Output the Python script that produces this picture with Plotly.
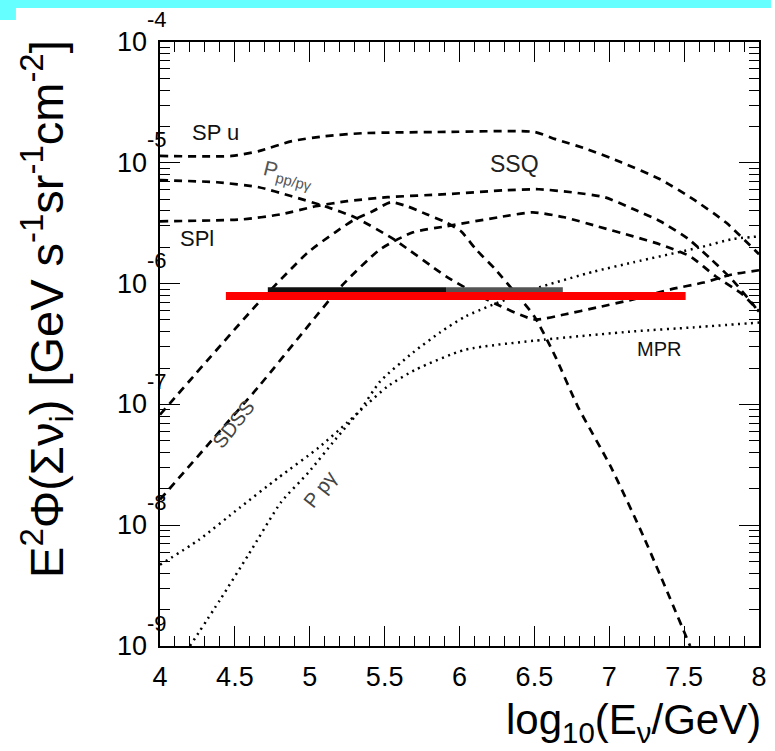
import plotly.graph_objects as go

# ---------------- data ----------------
x_spu = [4.0, 4.48, 4.66, 4.88, 5.10, 5.36, 5.91, 6.50, 6.64, 6.85, 7.08, 7.34, 7.56, 7.78, 8.0]
y_spu = [1.14e-5, 1.14e-5, 1.25e-5, 1.51e-5, 1.66e-5, 1.76e-5, 1.80e-5, 1.80e-5, 1.57e-5, 1.30e-5,
         1.01e-5, 7.3e-6, 5.0e-6, 3.2e-6, 1.75e-6]

x_ppp = [4.0, 4.38, 4.66, 4.88, 5.10, 5.30, 5.56, 5.91, 6.18, 6.50, 6.70, 6.92, 7.16, 7.41, 7.63, 7.82, 8.0]
y_ppp = [7.18e-6, 6.90e-6, 6.28e-6, 5.28e-6, 4.37e-6, 3.54e-6, 2.33e-6, 1.15e-6, 7.40e-7, 5.05e-7,
         5.55e-7, 6.35e-7, 7.40e-7, 8.95e-7, 1.02e-6, 1.19e-6, 1.29e-6]

x_spl = [4.0, 4.55, 4.81, 5.04, 5.25, 5.52, 5.91, 6.31, 6.53, 6.75, 6.97, 7.16, 7.34, 7.53, 7.68, 7.82, 7.96, 8.0]
y_spl = [3.28e-6, 3.40e-6, 3.75e-6, 4.37e-6, 4.81e-6, 5.19e-6, 5.50e-6, 5.93e-6, 6.04e-6, 5.70e-6,
         5.19e-6, 4.14e-6, 3.28e-6, 2.33e-6, 1.59e-6, 1.08e-6, 6.73e-7, 5.77e-7]

x_sdss = [4.0, 4.35, 4.66, 4.97, 5.21, 5.47, 5.69, 5.91, 6.26, 6.49, 6.70, 6.92, 7.16, 7.34, 7.54, 7.71, 7.89, 8.0]
y_sdss = [1.63e-8, 5.11e-8, 1.41e-7, 4.17e-7, 9.5e-7, 1.92e-6, 2.66e-6, 2.98e-6, 3.54e-6, 3.89e-6,
          3.54e-6, 2.98e-6, 2.46e-6, 2.11e-6, 1.68e-6, 1.15e-6, 8.13e-7, 5.87e-7]

x_ssq = [4.0, 4.66, 4.99, 5.17, 5.30, 5.42, 5.54, 5.65, 5.78, 5.91, 6.01, 6.11, 6.24, 6.37, 6.50,
         6.64, 6.79, 7.01, 7.23, 7.54]
y_ssq = [8.22e-8, 6.98e-7, 1.82e-6, 2.66e-6, 3.40e-6, 3.97e-6, 4.71e-6, 4.37e-6, 3.75e-6, 3.21e-6,
         2.71e-6, 1.92e-6, 1.31e-6, 8.45e-7, 5.35e-7, 2.49e-7, 9.6e-8, 3.05e-8, 8.0e-9, 1.0e-9]

x_mpr = [4.0, 4.26, 4.53, 4.79, 5.06, 5.25, 5.38, 5.52, 5.71, 6.04, 6.57, 7.16, 7.56, 8.0]
y_mpr = [4.70e-9, 7.57e-9, 1.39e-8, 2.47e-8, 4.39e-8, 7.06e-8, 9.95e-8, 1.41e-7, 1.95e-7, 2.84e-7,
         3.44e-7, 4.02e-7, 4.34e-7, 4.76e-7]

x_ppg = [4.20, 4.40, 4.59, 4.81, 4.99, 5.17, 5.34, 5.47, 5.69, 5.87, 6.04, 6.49, 6.90, 7.16, 7.61, 7.82, 8.0]
y_ppg = [1.0e-9, 2.40e-9, 5.68e-9, 1.56e-8, 2.72e-8, 5.11e-8, 9.06e-8, 1.55e-7, 2.69e-7, 3.94e-7,
         5.35e-7, 8.95e-7, 1.26e-6, 1.50e-6, 2.00e-6, 2.33e-6, 2.46e-6]

x_black = [4.72, 5.91]
y_black = [8.8e-7, 8.8e-7]
x_grey = [5.91, 6.69]
y_grey = [8.8e-7, 8.8e-7]
x_red = [4.44, 7.51]
y_red = [7.9e-7, 7.9e-7]

x_tickvals = [4, 4.5, 5, 5.5, 6, 6.5, 7, 7.5, 8]
x_ticktext = ["4", "4.5", "5", "5.5", "6", "6.5", "7", "7.5", "8"]
y_decades = [-9, -8, -7, -6, -5, -4]

# curve labels: (text, x, log10 y, angle, size, colour)
labels = [
    ("SP u", 4.37, -4.745, 0, 22, "#111"),
    ("P<sub>pp/p\u03b3</sub>", 4.86, -5.10, 14, 21, "#555"),
    ("SSQ", 6.37, -5.01, 0, 23, "#222"),
    ("SPl", 4.25, -5.63, 0, 22, "#111"),
    ("SDSS", 4.49, -7.16, -52, 20, "#444"),
    ("P p\u03b3", 5.07, -7.70, -52, 20, "#444"),
    ("MPR", 7.33, -6.54, 0, 20, "#111"),
]

FONT = "Liberation Sans, Arial, sans-serif"
DASH = "8px,6px"
DOT = "2px,4.5px"

fig = go.Figure()


def add_curve(x, y, dash, width=2.7):
    fig.add_trace(go.Scatter(x=x, y=y, mode="lines",
                             line=dict(color="black", width=width, dash=dash,
                                       shape="spline", smoothing=0.6),
                             showlegend=False, hoverinfo="skip"))


add_curve(x_spu, y_spu, DASH)
add_curve(x_ppp, y_ppp, DASH)
add_curve(x_spl, y_spl, DASH)
add_curve(x_sdss, y_sdss, DASH)
add_curve(x_ssq, y_ssq, DASH)
add_curve(x_mpr, y_mpr, DOT, 2.5)
add_curve(x_ppg, y_ppg, DOT, 2.5)

fig.add_trace(go.Scatter(x=x_black, y=y_black, mode="lines",
                         line=dict(color="#111", width=6), showlegend=False, hoverinfo="skip"))
fig.add_trace(go.Scatter(x=x_grey, y=y_grey, mode="lines",
                         line=dict(color="#555", width=6), showlegend=False, hoverinfo="skip"))
fig.add_trace(go.Scatter(x=x_red, y=y_red, mode="lines",
                         line=dict(color="#ff0000", width=8), showlegend=False, hoverinfo="skip"))

annotations = []
for d in y_decades:
    annotations.append(dict(xref="paper", x=0, yref="y", y=d, text="10", showarrow=False,
                            xanchor="right", yanchor="middle", xshift=-11,
                            font=dict(family=FONT, size=27, color="black")))
    annotations.append(dict(xref="paper", x=0, yref="y", y=d, text="-%d" % (-d), showarrow=False,
                            xanchor="left", yanchor="middle", xshift=-15, yshift=23,
                            font=dict(family=FONT, size=22, color="black")))

for txt, lx, ly, ang, sz, col in labels:
    annotations.append(dict(x=lx, y=ly, xref="x", yref="y", text=txt, showarrow=False,
                            textangle=ang, font=dict(family=FONT, size=sz, color=col)))

annotations.append(dict(xref="paper", x=0, xshift=-113, yref="paper", y=0.558,
                        text="E<sup>2</sup>\u03a6(\u03a3\u03bd<sub>i</sub>) [GeV s<sup>-1</sup>sr<sup>-1</sup>cm<sup>-2</sup>]",
                        textangle=-90, showarrow=False, xanchor="center", yanchor="middle",
                        font=dict(family=FONT, size=47, color="black")))
annotations.append(dict(xref="paper", x=1, xshift=4, yref="paper", y=0, yshift=-76,
                        text="log<sub>10</sub>(E<sub>\u03bd</sub>/GeV)", showarrow=False,
                        xanchor="right", yanchor="middle",
                        font=dict(family=FONT, size=42, color="black")))

minor_y = [m * 10.0 ** d for d in y_decades[:-1] for m in range(2, 10)]

fig.update_layout(
    width=775, height=751,
    margin=dict(l=160, r=8, t=42, b=105),
    paper_bgcolor="white", plot_bgcolor="white",
    annotations=annotations,
    shapes=[
        dict(type="rect", xref="paper", yref="paper", x0=-0.27, x1=1.02, y0=1.0563, y1=1.075,
             fillcolor="#66ffff", line=dict(width=0), layer="above"),
        dict(type="rect", xref="paper", yref="paper", x0=-0.27, x1=-0.2405, y0=1.0364, y1=1.075,
             fillcolor="#66ffff", line=dict(width=0), layer="above"),
    ],
    xaxis=dict(range=[4, 8], tickvals=x_tickvals, ticktext=x_ticktext,
               ticks="inside", ticklen=20, tickwidth=1, tickcolor="black",
               showline=True, linewidth=2, linecolor="black", mirror="allticks",
               showgrid=False, zeroline=False, ticklabelstandoff=6,
               tickfont=dict(family=FONT, size=27, color="black"),
               minor=dict(ticks="inside", ticklen=10, tickwidth=1, tickcolor="black",
                          dtick=0.1, tick0=4, showgrid=False)),
    yaxis=dict(type="log", range=[-9, -4], tickvals=[10.0 ** d for d in y_decades],
               showticklabels=False,
               ticks="inside", ticklen=20, tickwidth=1, tickcolor="black",
               showline=True, linewidth=2, linecolor="black", mirror="allticks",
               showgrid=False, zeroline=False,
               minor=dict(ticks="inside", ticklen=10, tickwidth=1, tickcolor="black",
                          tickvals=minor_y, showgrid=False)),
)

fig.write_html("out.html")
